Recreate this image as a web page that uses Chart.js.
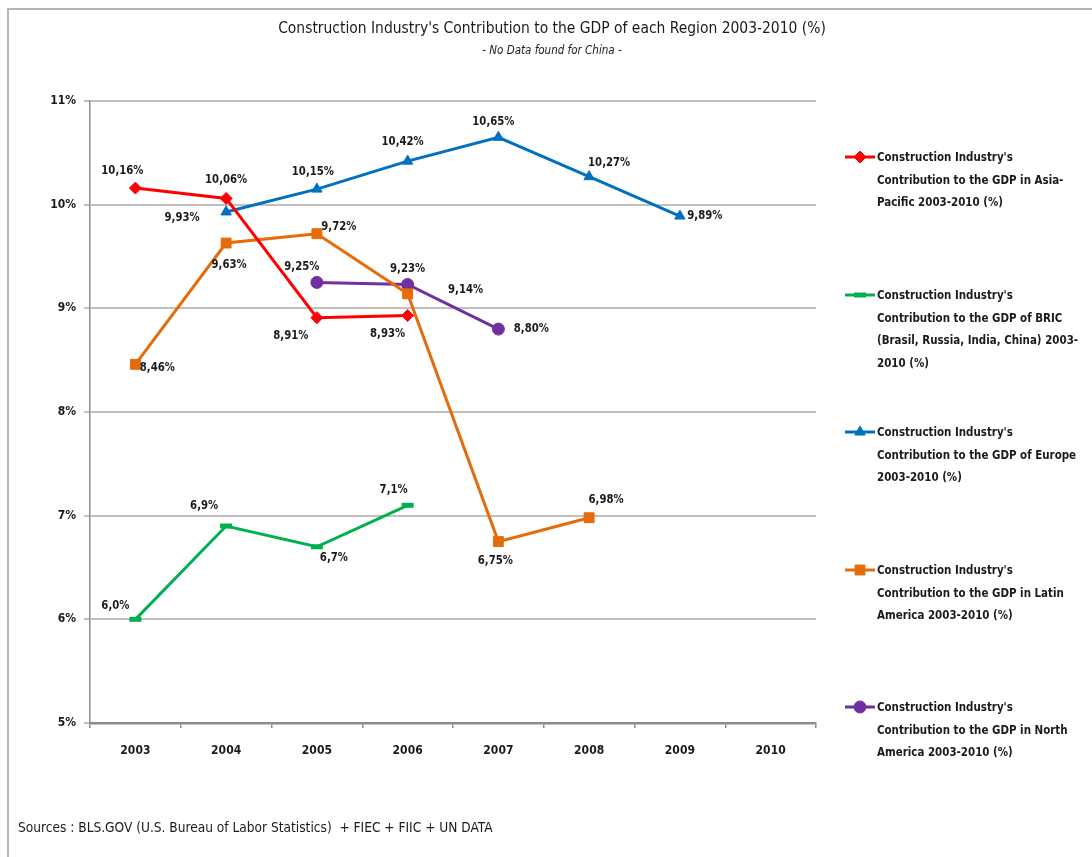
<!DOCTYPE html>
<html>
<head>
<meta charset="utf-8">
<script src="https://cdn.jsdelivr.net/npm/chart.js@4.4.1/dist/chart.umd.min.js"></script>
<style>
  body{margin:0;background:#fff;font-family:'Liberation Sans Narrow','DejaVu Sans Condensed',sans-serif;color:#1a1a1a;}
  #marco{position:absolute;left:7px;top:8px;width:1100px;height:870px;border:2px solid #b4b4b4;box-sizing:border-box;}
  #titulo{position:absolute;left:0;width:1104px;top:18px;text-align:center;font-size:16px;transform:scaleX(0.965);}
  #subtitulo{position:absolute;left:0;width:1104px;top:43px;text-align:center;font-size:11.5px;font-style:italic;}
  #fuentes{position:absolute;left:18px;top:819px;font-size:13.6px;}
  .ley{position:absolute;left:877px;font-size:13px;font-weight:bold;line-height:22.5px;white-space:nowrap;transform:scaleX(0.88);transform-origin:0 0;}
  canvas{position:absolute;left:0;top:0;}
</style>
</head>
<body>
<div id="marco"></div>
<canvas id="grafico" width="1092" height="857"></canvas>
<div id="titulo">Construction Industry's Contribution to the GDP of each Region 2003-2010 (%)</div>
<div id="subtitulo">- No Data found for China -</div>
<div id="fuentes">Sources : BLS.GOV (U.S. Bureau of Labor Statistics)&nbsp; + FIEC + FIIC + UN DATA</div>
<div id="leyenda"></div>
<script>
//Datos
    var anios = ["2003", "2004", "2005", "2006", "2007", "2008", "2009", "2010"];
    var asiaPacifico = [10.16, 10.06, 8.91, 8.93, null, null, null, null];
    var bric = [6.0, 6.9, 6.7, 7.1, null, null, null, null];
    var europa = [null, 9.93, 10.15, 10.42, 10.65, 10.27, 9.89, null];
    var latinoamerica = [8.46, 9.63, 9.72, 9.14, 6.75, 6.98, null, null];
    var norteamerica = [null, null, 9.25, 9.23, 8.80, null, null, null];
    var ticksY = ["5%", "6%", "7%", "8%", "9%", "10%", "11%"];

//Textos de la leyenda (una línea por renglón)
    var textoLeyenda = [
        ["Construction Industry's", "Contribution to the GDP in Asia-", "Pacific 2003-2010 (%)"],
        ["Construction Industry's", "Contribution to the GDP of BRIC", "(Brasil, Russia, India, China) 2003-", "2010 (%)"],
        ["Construction Industry's", "Contribution to the GDP of Europe", "2003-2010 (%)"],
        ["Construction Industry's", "Contribution to the GDP in Latin", "America 2003-2010 (%)"],
        ["Construction Industry's", "Contribution to the GDP in North", "America 2003-2010 (%)"]
    ];
    var yLeyenda = [157, 295, 432, 570, 707];

//Desplazamiento de cada etiqueta respecto a su punto [dx, dy]
    var posEtiquetas = [
        [[-13,-17], [0,-19], [-26,18], [-20,18]],
        [[-20,-14], [-22,-20], [17,11], [-14,-16]],
        [null, [-44,6], [-4,-17], [-5,-19], [-5,-16], [20,-14], [25,0]],
        [[22,3], [3,22], [22,-7], [58,-4], [-3,19], [17,-18]],
        [null, null, [-15,-16], [0,-16], [33,0]]
    ];

    var fuente = "'Liberation Sans Narrow','DejaVu Sans Condensed',sans-serif";
    Chart.defaults.font.family = fuente;
    Chart.defaults.color = "#1a1a1a";

    function serie(nombre, valores, color, estilo, radio, decimales){
        return {
            label: nombre, data: valores,
            borderColor: color, backgroundColor: color,
            borderWidth: 3, pointStyle: estilo, pointRadius: radio,
            pointHoverRadius: radio, pointBorderWidth: estilo == "line" ? 5 : 1,
            pointBorderColor: color, pointBackgroundColor: color,
            spanGaps: false, tension: 0, decimales: decimales
        };
    }

//Plugin para las etiquetas de valor
    var etiquetas = {
        id: "etiquetas",
        afterDatasetsDraw: function(chart){
            var ctx = chart.ctx;
            chart.data.datasets.forEach(function(ds, i){
                var meta = chart.getDatasetMeta(i);
                meta.data.forEach(function(p, j){
                    var v = ds.data[j];
                    if(v == null) return;
                    var off = posEtiquetas[i][j] || [0, -16];
                    var txt = v.toFixed(ds.decimales).replace(".", ",") + "%";
                    ctx.save();
                    ctx.translate(p.x + off[0], p.y + off[1]);
                    ctx.scale(0.9, 1);
                    ctx.font = "bold 12.5px " + fuente;
                    ctx.fillStyle = "#1a1a1a";
                    ctx.textAlign = "center";
                    ctx.textBaseline = "middle";
                    ctx.fillText(txt, 0, 0);
                    ctx.restore();
                });
            });
        }
    };

//Plugin para los símbolos de la leyenda
    var simbolos = {
        id: "simbolos",
        afterDraw: function(chart){
            var ctx = chart.ctx;
            chart.data.datasets.forEach(function(ds, i){
                var y = yLeyenda[i];
                ctx.save();
                ctx.strokeStyle = ds.borderColor;
                ctx.lineWidth = 3;
                ctx.beginPath();
                ctx.moveTo(845, y);
                ctx.lineTo(875, y);
                ctx.stroke();
                ctx.fillStyle = ds.backgroundColor;
                ctx.strokeStyle = ds.borderColor;
                ctx.lineWidth = ds.pointBorderWidth;
                Chart.helpers.drawPoint(ctx, {pointStyle: ds.pointStyle, radius: ds.pointRadius, borderWidth: ds.pointBorderWidth, rotation: 0}, 860, y);
                ctx.restore();
            });
        }
    };

    var grafico = new Chart(document.getElementById("grafico"), {
        type: "line",
        data: {
            labels: anios,
            datasets: [
                serie("Construction Industry's Contribution to the GDP in Asia-Pacific 2003-2010 (%)", asiaPacifico, "#ff0000", "rectRot", 6, 2),
                serie("Construction Industry's Contribution to the GDP of BRIC (Brasil, Russia, India, China) 2003-2010 (%)", bric, "#00b050", "line", 6, 1),
                serie("Construction Industry's Contribution to the GDP of Europe 2003-2010 (%)", europa, "#0070c0", "triangle", 6, 2),
                serie("Construction Industry's Contribution to the GDP in Latin America 2003-2010 (%)", latinoamerica, "#e46c0a", "rect", 7, 2),
                serie("Construction Industry's Contribution to the GDP in North America 2003-2010 (%)", norteamerica, "#7030a0", "circle", 6, 2)
            ]
        },
        options: {
            responsive: false,
            animation: false,
            layout: {padding: {left: 0, top: 101, right: 276, bottom: 94}},
            plugins: {legend: {display: false}, title: {display: false}, tooltip: {enabled: false}},
            scales: {
                x: {
                    offset: true,
                    grid: {offset: true, drawOnChartArea: false, drawTicks: true, tickLength: 5, color: "#8c8c8c", lineWidth: 1.5},
                    border: {display: true, color: "#8c8c8c", width: 2.5},
                    ticks: {font: {size: 12, weight: "bold"}, padding: 16, color: "#1a1a1a"},
                    afterFit: function(s){ s.height = 40; }
                },
                y: {
                    min: 5, max: 11,
                    ticks: {stepSize: 1, font: {size: 12, weight: "bold"}, padding: 8, color: "#1a1a1a",
                        callback: function(v){ return ticksY[v - 5]; }},
                    grid: {color: "#c0c0c0", lineWidth: 2, tickLength: 6},
                    border: {display: true, color: "#8c8c8c", width: 1.5},
                    afterFit: function(s){ s.width = 90; }
                }
            }
        },
        plugins: [etiquetas, simbolos]
    });

//Leyenda en HTML
    var html = "";
    for(var a = 0; a < textoLeyenda.length; a++){
        html += '<div class="ley" style="top:' + (yLeyenda[a] - 11) + 'px">' + textoLeyenda[a].join("<br>") + '</div>';
    }
    document.getElementById("leyenda").innerHTML = html;
</script>
</body>
</html>
